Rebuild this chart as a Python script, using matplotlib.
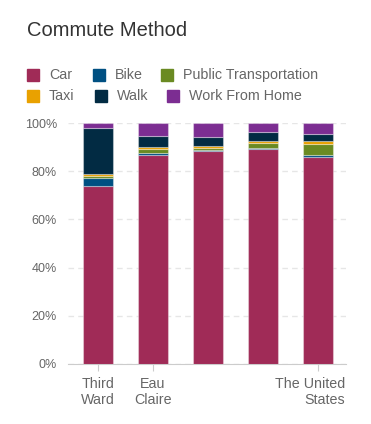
import matplotlib.pyplot as plt
import matplotlib.transforms as mtransforms
from matplotlib.patches import Rectangle
import numpy as np

plt.rcParams["font.family"] = ["Liberation Sans", "DejaVu Sans"]

places = ["Third\nWard", "Eau\nClaire", "", "", "The United\nStates"]
modes = ["Car", "Bike", "Public Transportation", "Taxi", "Walk", "Work From Home"]
car = [73.9, 86.6, 88.2, 89.1, 85.8]
bike = [3.2, 1.1, 0.6, 0.7, 0.8]
public = [1.1, 1.4, 0.8, 1.8, 4.8]
taxi = [0.8, 1.0, 1.0, 1.0, 1.2]
walk = [18.8, 4.7, 3.5, 3.5, 2.9]
wfh = [2.2, 5.2, 5.9, 3.9, 4.5]
colors = ["#a02b57", "#005082", "#6a8a22", "#e9a100", "#022b43", "#7c2d92"]

series = [car, bike, public, taxi, walk, wfh]

fig = plt.figure(figsize=(3.71, 4.24), dpi=100)
ax = fig.add_axes([68 / 371, 60 / 424, 278 / 371, 241 / 424])

x = np.arange(len(places))
bottom = np.zeros(len(places))
for vals, col in zip(series, colors):
    ax.bar(x, vals, width=0.545, bottom=bottom, color=col,
           edgecolor=(1, 1, 1, 0.35), linewidth=0.8, zorder=3)
    bottom += np.array(vals)

ax.set_xlim(-0.54, 4.5)
ax.set_ylim(0, 100)
ax.set_yticks(np.arange(0, 101, 20))
ax.set_yticklabels([f"{v}%" for v in range(0, 101, 20)])
ax.yaxis.grid(True, color="#e6e6e6", linestyle=(0, (4, 3)), linewidth=1, zorder=0)
ax.tick_params(axis="y", length=0, pad=8, labelsize=9, labelcolor="#666666")

# only labelled categories get a tick
shown = [i for i, p in enumerate(places) if p]
ax.set_xticks(x[shown])
ax.set_xticklabels([places[i] for i in shown])
ax.tick_params(axis="x", length=5, color="#cccccc", pad=4, labelsize=10.3,
               labelcolor="#666666")
last = ax.get_xticklabels()[-1]
last.set_horizontalalignment("right")
last.set_multialignment("right")
last.set_transform(last.get_transform() + mtransforms.ScaledTranslation(27 / 100, 0, fig.dpi_scale_trans))

for side in ["top", "right", "left"]:
    ax.spines[side].set_visible(False)
ax.spines["bottom"].set_color("#cccccc")

fig.text(27 / 371, 1 - 30 / 424, "Commute Method", fontsize=14.5, color="#333333",
         va="center", ha="left")

# legend drawn by hand to follow the flowing layout
leg_pos = [(27, 75), (93, 75), (161, 75), (27, 96), (95, 96), (167, 96)]
for (lx, ly), name, col in zip(leg_pos, modes, colors):
    fig.patches.append(Rectangle((lx / 371, 1 - (ly + 6) / 424), 12 / 371, 12 / 424,
                                 transform=fig.transFigure, color=col))
    fig.text((lx + 22) / 371, 1 - ly / 424, name, fontsize=10.3, color="#666666",
             va="center", ha="left")

fig.savefig("out.png", dpi=100)
